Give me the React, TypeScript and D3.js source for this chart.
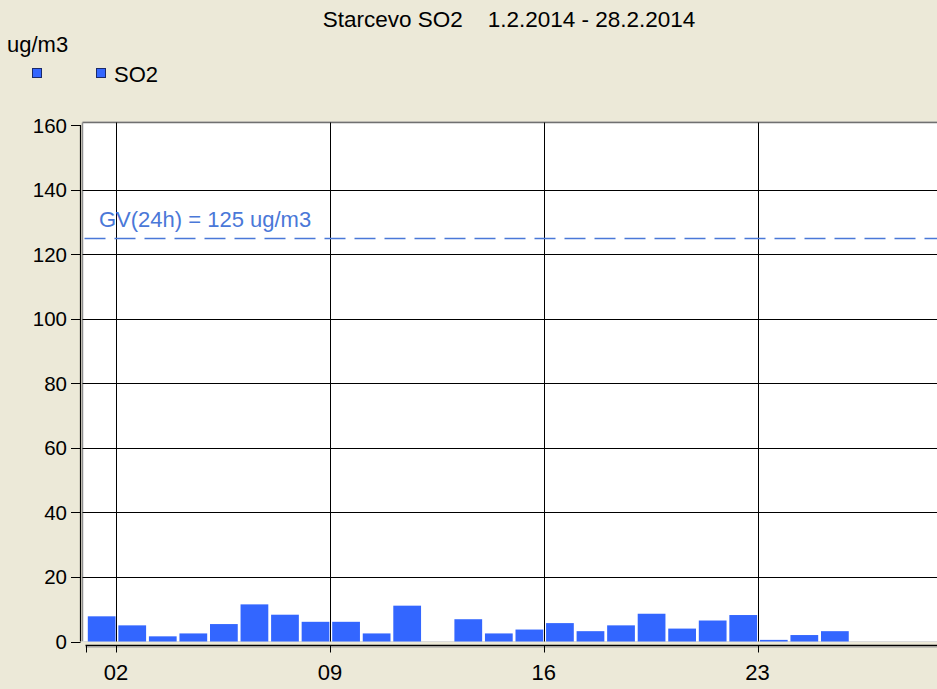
import React from "react";
import * as d3 from "d3";

const title = "Starcevo SO2    1.2.2014 - 28.2.2014";
const unitLabel = "ug/m3";
const seriesName = "SO2";
const days = [1,2,3,4,5,6,7,8,9,10,11,12,13,14,15,16,17,18,19,20,21,22,23,24,25,26,27,28];
const values: (number | null)[] = [7.8,5.0,1.6,2.5,5.4,11.5,8.3,6.1,6.1,2.5,11.1,null,6.9,2.5,3.7,5.7,3.2,5.0,8.6,4.0,6.5,8.2,0.5,2.0,3.2,null,null,null];
const xTickDays = [2, 9, 16, 23];
const xTickLabels = ["02", "09", "16", "23"];
const yTicks = [0, 20, 40, 60, 80, 100, 120, 140, 160];
const limitValue = 125;
const limitLabel = "GV(24h) = 125 ug/m3";

const W = 937, H = 689;
const FONT = "'Liberation Sans', Arial, sans-serif";
const BG = "#ECE9D8";
const BAR = "#3366FF";
const LIMIT = "#4A78D8";

export default function App() {
  const x = d3.scaleLinear().domain([1, 29]).range([85.5, 85.5 + 28 * 30.55]);
  const y = d3.scaleLinear().domain([0, 160]).range([641.5, 125]);
  const plotLeft = 82.5, plotTop = 122.5, plotBottom = 641.5;
  const axisY = 645.5;
  const yAxisX = 80.5;

  return (
    <div style={{ position: "fixed", left: 0, top: 0, width: W, height: H }}>
      <svg width={W} height={H} style={{ display: "block" }} fontFamily={FONT}>
        <rect x={0} y={0} width={W} height={H} fill={BG} />
        <text x={509} y={27} textAnchor="middle" fontSize={22.5} fill="#000" style={{ whiteSpace: "pre" }} xmlSpace="preserve">{title}</text>
        <text x={7} y={52} fontSize={22} fill="#000">{unitLabel}</text>
        <rect x={32.5} y={68.5} width={9} height={9} fill={BAR} stroke="#1a2a6a" strokeWidth={1} />
        <rect x={96.5} y={68.5} width={9} height={9} fill={BAR} stroke="#1a2a6a" strokeWidth={1} />
        <text x={114} y={82} fontSize={22} fill="#000">{seriesName}</text>

        {/* plot area */}
        <rect x={plotLeft} y={plotTop} width={W} height={plotBottom - plotTop} fill="#fff" stroke="none" />
        <line x1={plotLeft} x2={W} y1={plotTop - 1} y2={plotTop - 1} stroke="#d8d6cc" strokeWidth={1} />
        <line x1={plotLeft} x2={W} y1={plotTop} y2={plotTop} stroke="#707070" strokeWidth={1.5} />
        <line x1={plotLeft} x2={plotLeft} y1={plotTop} y2={plotBottom} stroke="#909090" strokeWidth={1.5} />
        <line x1={plotLeft} x2={W} y1={plotBottom} y2={plotBottom} stroke="#dcdcdc" strokeWidth={1} />

        {yTicks.filter(t => t > 0 && t < 160).map(t => (
          <line key={"gy" + t} x1={plotLeft} x2={W} y1={Math.round(y(t)) + 0.5} y2={Math.round(y(t)) + 0.5} stroke="#000" strokeWidth={1} />
        ))}
        {xTickDays.map(d => (
          <line key={"gx" + d} x1={Math.round(x(d)) + 0.5} x2={Math.round(x(d)) + 0.5} y1={plotTop} y2={plotBottom} stroke="#000" strokeWidth={1} />
        ))}

        {days.map((d, i) => {
          const v = values[i];
          if (v == null) return null;
          const x0 = x(d) + 2.3, x1 = x(d + 1) - 0.5;
          return <rect key={"b" + d} x={x0} y={y(v)} width={x1 - x0} height={y(0) - y(v)} fill={BAR} />;
        })}

        {/* limit line */}
        <line x1={plotLeft + 2} x2={W} y1={Math.round(y(limitValue)) + 0.5} y2={Math.round(y(limitValue)) + 0.5} stroke={LIMIT} strokeWidth={1.3} strokeDasharray="21 9" />
        <text x={99} y={227} fontSize={22} fill={LIMIT}>{limitLabel}</text>

        {/* y axis */}
        <line x1={yAxisX} x2={yAxisX} y1={y(160)} y2={y(0)} stroke="#000" strokeWidth={1.2} />
        {yTicks.map(t => (
          <g key={"yt" + t}>
            <line x1={71} x2={yAxisX} y1={Math.round(y(t)) + 0.5} y2={Math.round(y(t)) + 0.5} stroke="#000" strokeWidth={1} />
            <text x={67} y={y(t) + 7.5} textAnchor="end" fontSize={20.5} fill="#000">{t}</text>
          </g>
        ))}

        {/* x axis */}
        <line x1={x(1)} x2={W} y1={axisY} y2={axisY} stroke="#000" strokeWidth={1.5} />
        <line x1={x(1)} x2={W} y1={axisY + 1.5} y2={axisY + 1.5} stroke="#999" strokeWidth={1} />
        <line x1={Math.round(x(1)) + 0.5} x2={Math.round(x(1)) + 0.5} y1={axisY} y2={axisY + 7} stroke="#000" strokeWidth={1} />
        {xTickDays.map((d, i) => (
          <g key={"xt" + d}>
            <line x1={Math.round(x(d)) + 0.5} x2={Math.round(x(d)) + 0.5} y1={axisY} y2={axisY + 7} stroke="#000" strokeWidth={1} />
            <text x={x(d)} y={680} textAnchor="middle" fontSize={22} fill="#000">{xTickLabels[i]}</text>
          </g>
        ))}
      </svg>
    </div>
  );
}
